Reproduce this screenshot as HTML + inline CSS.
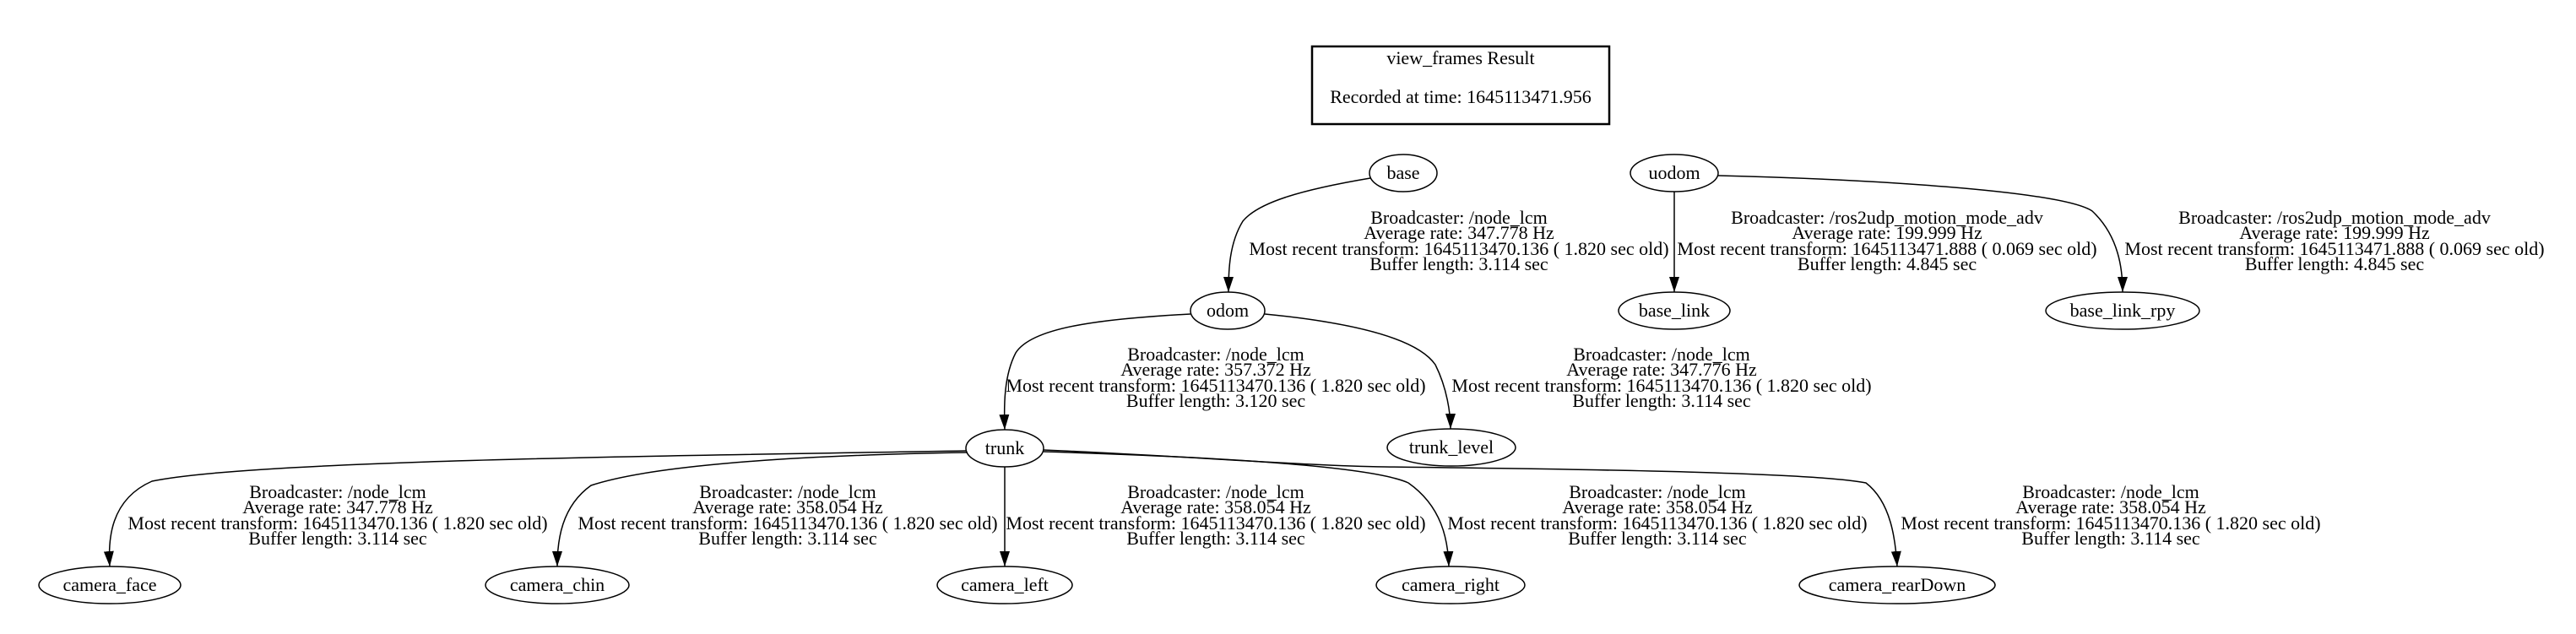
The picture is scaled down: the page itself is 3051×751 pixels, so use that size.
<!DOCTYPE html>
<html><head><meta charset="utf-8"><style>body{margin:0;background:#fff}svg{display:block}</style></head><body>
<svg width="3051" height="751" viewBox="0 0 3051 751" xmlns="http://www.w3.org/2000/svg" font-family="Liberation Serif, serif" font-size="22">
<defs><marker id="a" markerWidth="18" markerHeight="12" refX="18" refY="6" orient="auto" markerUnits="userSpaceOnUse"><path d="M0,0 L18,6 L0,12 Z" fill="#000"/></marker></defs>
<rect width="3051" height="751" fill="#fff"/>
<rect x="1554" y="55" width="352" height="92" fill="none" stroke="#000" stroke-width="2.5"/>
<text x="1730" y="76" text-anchor="middle">view_frames Result</text>
<text x="1730" y="122" text-anchor="middle">Recorded at time: 1645113471.956</text>
<g fill="none" stroke="#000" stroke-width="1.5">
<ellipse cx="1662" cy="205" rx="40" ry="22"/>
<ellipse cx="1983" cy="205" rx="52" ry="22"/>
<ellipse cx="1454" cy="368" rx="44" ry="22"/>
<ellipse cx="1983" cy="368" rx="66" ry="22"/>
<ellipse cx="2514" cy="368" rx="91" ry="22"/>
<ellipse cx="1190" cy="531" rx="46" ry="22"/>
<ellipse cx="1719" cy="530" rx="76" ry="22"/>
<ellipse cx="130" cy="693" rx="84" ry="22"/>
<ellipse cx="660" cy="693" rx="85" ry="22"/>
<ellipse cx="1190" cy="693" rx="80" ry="22"/>
<ellipse cx="1718" cy="693" rx="88" ry="22"/>
<ellipse cx="2247" cy="693" rx="116" ry="22"/>
</g>
<g fill="none" stroke="#000" stroke-width="1.5" marker-end="url(#a)">
<path d="M1623,211 C1540,225 1490,240 1472,262 C1456,288 1455,320 1455,346"/>
<path d="M1983,227 L1983,346"/>
<path d="M2035,208 C2200,212 2440,225 2478,250 C2510,280 2514,320 2514,346"/>
<path d="M1410,372 C1300,378 1222,388 1203,418 C1189,445 1189,480 1190,509"/>
<path d="M1498,372 C1600,382 1678,400 1700,432 C1714,460 1718,490 1718,508"/>
<path d="M1145,534 C800,540 300,545 180,570 C130,592 128,640 130,671"/>
<path d="M1146,536 C900,540 760,555 700,575 C665,600 660,640 660,671"/>
<path d="M1190,553 L1190,671"/>
<path d="M1236,535 C1400,540 1620,550 1668,572 C1708,600 1715,640 1716,671"/>
<path d="M1236,533 C1400,540 1550,552 1640,553 C1900,556 2150,560 2210,572 C2240,595 2245,640 2247,671"/>
</g>
<g text-anchor="middle">
<text x="1662" y="212">base</text>
<text x="1983" y="212">uodom</text>
<text x="1454" y="375">odom</text>
<text x="1983" y="375">base_link</text>
<text x="2514" y="375">base_link_rpy</text>
<text x="1190" y="538">trunk</text>
<text x="1719" y="537">trunk_level</text>
<text x="130" y="700">camera_face</text>
<text x="660" y="700">camera_chin</text>
<text x="1190" y="700">camera_left</text>
<text x="1718" y="700">camera_right</text>
<text x="2247" y="700">camera_rearDown</text>
</g>
<g text-anchor="middle">
<text x="1728" y="265">Broadcaster: /node_lcm</text><text x="1728" y="283">Average rate: 347.778 Hz</text><text x="1728" y="302">Most recent transform: 1645113470.136 ( 1.820 sec old)</text><text x="1728" y="320">Buffer length: 3.114 sec</text>
<text x="2235" y="265">Broadcaster: /ros2udp_motion_mode_adv</text><text x="2235" y="283">Average rate: 199.999 Hz</text><text x="2235" y="302">Most recent transform: 1645113471.888 ( 0.069 sec old)</text><text x="2235" y="320">Buffer length: 4.845 sec</text>
<text x="2765" y="265">Broadcaster: /ros2udp_motion_mode_adv</text><text x="2765" y="283">Average rate: 199.999 Hz</text><text x="2765" y="302">Most recent transform: 1645113471.888 ( 0.069 sec old)</text><text x="2765" y="320">Buffer length: 4.845 sec</text>
<text x="1440" y="427">Broadcaster: /node_lcm</text><text x="1440" y="445">Average rate: 357.372 Hz</text><text x="1440" y="464">Most recent transform: 1645113470.136 ( 1.820 sec old)</text><text x="1440" y="482">Buffer length: 3.120 sec</text>
<text x="1968" y="427">Broadcaster: /node_lcm</text><text x="1968" y="445">Average rate: 347.776 Hz</text><text x="1968" y="464">Most recent transform: 1645113470.136 ( 1.820 sec old)</text><text x="1968" y="482">Buffer length: 3.114 sec</text>
<text x="400" y="590">Broadcaster: /node_lcm</text><text x="400" y="608">Average rate: 347.778 Hz</text><text x="400" y="627">Most recent transform: 1645113470.136 ( 1.820 sec old)</text><text x="400" y="645">Buffer length: 3.114 sec</text>
<text x="933" y="590">Broadcaster: /node_lcm</text><text x="933" y="608">Average rate: 358.054 Hz</text><text x="933" y="627">Most recent transform: 1645113470.136 ( 1.820 sec old)</text><text x="933" y="645">Buffer length: 3.114 sec</text>
<text x="1440" y="590">Broadcaster: /node_lcm</text><text x="1440" y="608">Average rate: 358.054 Hz</text><text x="1440" y="627">Most recent transform: 1645113470.136 ( 1.820 sec old)</text><text x="1440" y="645">Buffer length: 3.114 sec</text>
<text x="1963" y="590">Broadcaster: /node_lcm</text><text x="1963" y="608">Average rate: 358.054 Hz</text><text x="1963" y="627">Most recent transform: 1645113470.136 ( 1.820 sec old)</text><text x="1963" y="645">Buffer length: 3.114 sec</text>
<text x="2500" y="590">Broadcaster: /node_lcm</text><text x="2500" y="608">Average rate: 358.054 Hz</text><text x="2500" y="627">Most recent transform: 1645113470.136 ( 1.820 sec old)</text><text x="2500" y="645">Buffer length: 3.114 sec</text>
</g>
</svg>
</body></html>
